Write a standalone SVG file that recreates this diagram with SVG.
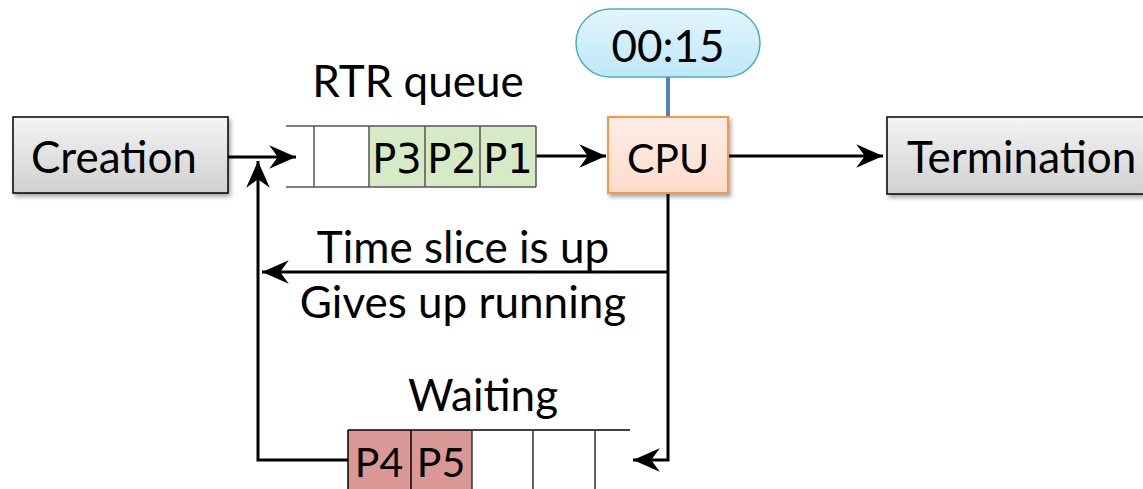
<svg xmlns="http://www.w3.org/2000/svg" width="1143" height="489" viewBox="0 0 1143 489">
  <style>
    .lbl { font-family: Lato, "Liberation Sans", sans-serif; font-size: 44px; fill: #000; }
    .sm { font-size: 41px; }
    .cell { font-family: "DejaVu Sans", sans-serif; font-size: 40px; fill: #000; }
    .box { stroke: #000; stroke-width: 1.5; }
    .conn { fill: none; stroke: #000; stroke-width: 3; }
    .qline { fill: none; stroke: #555; stroke-width: 1.5; }
  </style>
  <defs>
    <linearGradient id="grayGrad" x1="0" y1="0" x2="0" y2="1">
      <stop offset="0" stop-color="#F4F4F4"/>
      <stop offset="1" stop-color="#D0D0D0"/>
    </linearGradient>
    <linearGradient id="peachGrad" x1="0" y1="0" x2="0" y2="1">
      <stop offset="0" stop-color="#FEEEE6"/>
      <stop offset="1" stop-color="#FCDCCB"/>
    </linearGradient>
    <linearGradient id="blueGrad" x1="0" y1="0" x2="0" y2="1">
      <stop offset="0" stop-color="#E2F5FD"/>
      <stop offset="1" stop-color="#BFE7F8"/>
    </linearGradient>
    <filter id="shadow" x="-10%" y="-10%" width="130%" height="140%">
      <feDropShadow dx="2" dy="3" stdDeviation="2" flood-color="#000" flood-opacity="0.35"/>
    </filter>
    <marker id="arrow" markerUnits="userSpaceOnUse" markerWidth="30" markerHeight="30" viewBox="-26 -13 28 26" refX="0" refY="0" orient="auto">
      <path d="M0,0 L-25,-11 L-17,0 L-25,11 Z" fill="#000"/>
    </marker>
  </defs>

  <!-- connectors -->
  <g id="connectors">
    <line class="conn" x1="228" y1="157" x2="296" y2="157" marker-end="url(#arrow)"/>
    <line class="conn" x1="536" y1="156" x2="606" y2="156" marker-end="url(#arrow)"/>
    <line class="conn" x1="728" y1="156" x2="883" y2="156" marker-end="url(#arrow)"/>
    <line x1="668" y1="77" x2="668" y2="117" stroke="#4F81BD" stroke-width="4"/>
    <line class="conn" x1="668" y1="272" x2="262" y2="272" marker-end="url(#arrow)"/>
    <polyline class="conn" points="668,193 668,460 633,460" marker-end="url(#arrow)"/>
    <polyline class="conn" points="348,460 258,460 258,161" marker-end="url(#arrow)"/>
  </g>

  <!-- process creation -->
  <g id="creation">
    <rect class="box" x="13" y="117" width="215" height="76" fill="url(#grayGrad)" filter="url(#shadow)"/>
    <text class="lbl" x="114" y="173" text-anchor="middle">Creation</text>
  </g>

  <!-- ready-to-run queue -->
  <g id="rtr-queue">
    <rect x="369" y="126" width="167" height="61" fill="#D6EBC5"/>
    <line class="qline" x1="286" y1="126" x2="536" y2="126"/>
    <line class="qline" x1="286" y1="187" x2="536" y2="187"/>
    <line class="qline" x1="314" y1="126" x2="314" y2="187"/>
    <line class="qline" x1="369" y1="126" x2="369" y2="187"/>
    <line class="qline" x1="425" y1="126" x2="425" y2="187" stroke="#333"/>
    <line class="qline" x1="480" y1="126" x2="480" y2="187" stroke="#333"/>
    <line class="qline" x1="536" y1="126" x2="536" y2="187"/>
    <text class="cell" x="397" y="173" text-anchor="middle">P3</text>
    <text class="cell" x="452" y="173" text-anchor="middle">P2</text>
    <text class="cell" x="508" y="173" text-anchor="middle">P1</text>
    <text class="lbl" x="418" y="97" text-anchor="middle">RTR queue</text>
  </g>

  <!-- timer -->
  <g id="timer">
    <rect x="576" y="9" width="184" height="68" rx="34" ry="34" fill="url(#blueGrad)" stroke="#4BACC6" stroke-width="1.5"/>
    <text class="lbl" x="668" y="62" text-anchor="middle">00:15</text>
  </g>

  <!-- processor -->
  <g id="cpu">
    <rect x="608" y="117" width="120" height="76" fill="url(#peachGrad)" stroke="#F79646" stroke-width="2" filter="url(#shadow)"/>
    <text class="lbl sm" x="668" y="173" text-anchor="middle">CPU</text>
  </g>

  <!-- process termination -->
  <g id="termination">
    <rect class="box" x="887" y="117" width="270" height="77" fill="url(#grayGrad)" filter="url(#shadow)"/>
    <text class="lbl" x="907" y="173">Termination</text>
  </g>

  <!-- preemption / yield labels -->
  <g id="labels">
    <text class="lbl" x="463" y="263" text-anchor="middle">Time slice is up</text>
    <text class="lbl" x="463" y="318" text-anchor="middle">Gives up running</text>
  </g>

  <!-- waiting queue -->
  <g id="waiting-queue">
    <rect x="348" y="430" width="124" height="70" fill="#D99795"/>
    <line x1="348" y1="430" x2="630" y2="430" stroke="#000" stroke-width="1.5"/>
    <line x1="348" y1="430" x2="348" y2="489" stroke="#000" stroke-width="1.5"/>
    <line x1="411" y1="430" x2="411" y2="489" stroke="#000" stroke-width="1.5"/>
    <line x1="472" y1="430" x2="472" y2="489" stroke="#333" stroke-width="1.5"/>
    <line x1="533" y1="430" x2="533" y2="489" stroke="#333" stroke-width="1.5"/>
    <line x1="595" y1="430" x2="595" y2="489" stroke="#333" stroke-width="1.5"/>
    <text class="lbl sm" x="379" y="477" text-anchor="middle">P4</text>
    <text class="lbl sm" x="441" y="477" text-anchor="middle">P5</text>
    <text class="lbl" x="483" y="411" text-anchor="middle">Waiting</text>
  </g>
</svg>
